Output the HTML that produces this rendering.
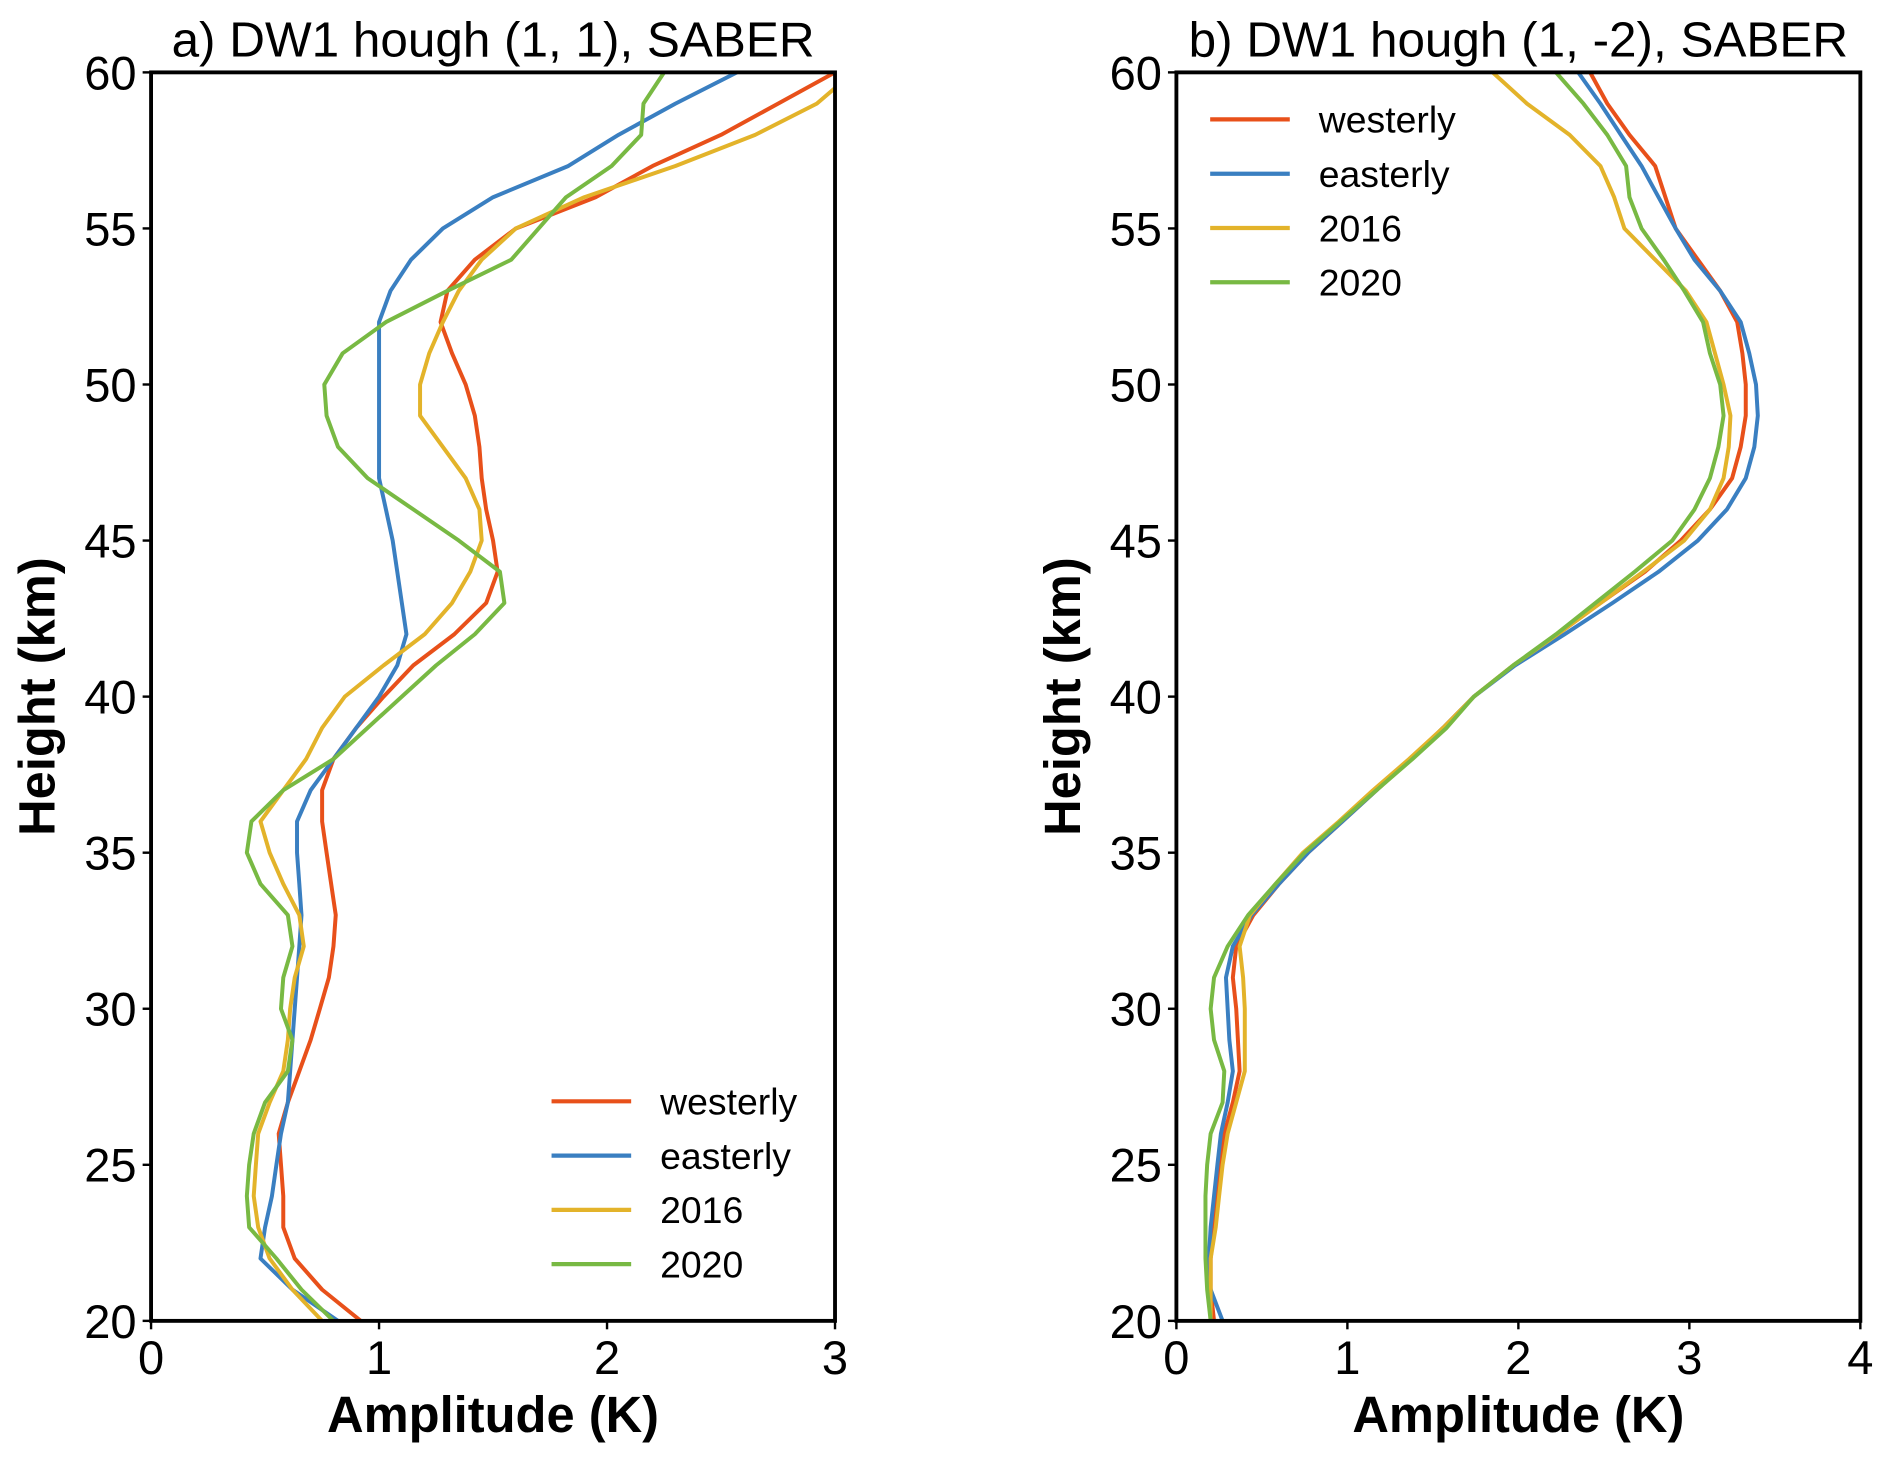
<!DOCTYPE html>
<html><head><meta charset="utf-8"><style>
html,body{margin:0;padding:0;background:#fff}
svg{display:block}
text{font-family:"Liberation Sans",sans-serif;fill:#000}
</style></head><body>
<svg id="chart" width="1892" height="1462" viewBox="0 0 1568 1212"></svg>
<script>
const heights=[20,21,22,23,24,25,26,27,28,29,30,31,32,33,34,35,36,37,38,39,40,41,42,43,44,45,46,47,48,49,50,51,52,53,54,55,56,57,58,59,60];
const aWest=[0.92,0.75,0.63,0.58,0.58,0.57,0.56,0.6,0.65,0.7,0.74,0.78,0.8,0.81,0.79,0.77,0.75,0.75,0.8,0.9,1.02,1.15,1.33,1.47,1.52,1.5,1.47,1.45,1.44,1.42,1.38,1.32,1.27,1.3,1.42,1.6,1.95,2.2,2.5,2.75,3.0];
const aEast=[0.82,0.62,0.48,0.5,0.53,0.55,0.57,0.6,0.61,0.62,0.63,0.64,0.65,0.66,0.65,0.64,0.64,0.7,0.8,0.9,1.0,1.08,1.12,1.1,1.08,1.06,1.03,1.0,1.0,1.0,1.0,1.0,1.0,1.05,1.14,1.28,1.5,1.83,2.05,2.3,2.57];
const a2016=[0.75,0.62,0.52,0.47,0.45,0.46,0.47,0.52,0.58,0.6,0.61,0.63,0.67,0.65,0.58,0.52,0.48,0.58,0.68,0.75,0.85,1.02,1.2,1.32,1.4,1.45,1.44,1.38,1.28,1.18,1.18,1.22,1.28,1.35,1.45,1.6,1.9,2.3,2.65,2.92,3.08];
const a2020=[0.8,0.66,0.55,0.43,0.42,0.43,0.45,0.5,0.6,0.62,0.57,0.58,0.62,0.6,0.48,0.42,0.44,0.58,0.8,0.95,1.1,1.25,1.42,1.55,1.53,1.35,1.15,0.95,0.82,0.77,0.76,0.84,1.03,1.3,1.58,1.7,1.82,2.02,2.15,2.16,2.25];
const bWest=[0.22,0.2,0.2,0.22,0.23,0.25,0.28,0.33,0.37,0.36,0.35,0.33,0.35,0.45,0.6,0.77,0.97,1.17,1.37,1.56,1.74,1.97,2.23,2.48,2.74,2.95,3.12,3.25,3.3,3.33,3.33,3.31,3.28,3.18,3.05,2.92,2.86,2.8,2.65,2.52,2.42];
const bEast=[0.27,0.2,0.19,0.2,0.22,0.24,0.26,0.3,0.33,0.31,0.3,0.29,0.33,0.44,0.6,0.77,0.97,1.17,1.37,1.56,1.74,1.98,2.27,2.55,2.82,3.05,3.22,3.33,3.38,3.4,3.39,3.35,3.3,3.18,3.03,2.92,2.82,2.72,2.6,2.48,2.35];
const b2016=[0.2,0.2,0.2,0.23,0.25,0.27,0.3,0.35,0.4,0.4,0.4,0.39,0.37,0.43,0.58,0.74,0.95,1.15,1.36,1.56,1.74,1.97,2.23,2.48,2.73,2.97,3.12,3.2,3.23,3.24,3.2,3.15,3.1,2.98,2.8,2.62,2.56,2.48,2.3,2.05,1.85];
const b2020=[0.2,0.18,0.17,0.17,0.17,0.18,0.2,0.27,0.28,0.22,0.2,0.22,0.3,0.42,0.58,0.75,0.96,1.17,1.38,1.58,1.74,1.97,2.22,2.45,2.68,2.9,3.03,3.12,3.17,3.2,3.18,3.12,3.08,2.97,2.85,2.72,2.65,2.63,2.52,2.38,2.22];
const seriesNames=["westerly","easterly","2016","2020"];
const colors=["#e8501a","#3a7fc1","#e3b32a","#78b943"];
const yTicks=[20,25,30,35,40,45,50,55,60];
const aXTicks=[0,1,2,3];
const bXTicks=[0,1,2,3,4];
const NS="http://www.w3.org/2000/svg";
const svg=document.getElementById('chart');
function mk(tag,attrs,parent){const e=document.createElementNS(NS,tag);for(const k in attrs)e.setAttribute(k,attrs[k]);(parent||svg).appendChild(e);return e;}
function panel(key,x0,x1,xmax,xticks,title,data,legend){
  const y0=60,y1=1095;
  const sx=v=>x0+(x1-x0)*v/xmax;
  const sy=h=>y1-(y1-y0)*(h-20)/40;
  const g=mk('g',{});
  
  
  const cp=mk('clipPath',{id:'clip'+key},g);mk('rect',{x:x0,y:y0,width:x1-x0,height:y1-y0},cp);
  data.forEach((arr,i)=>{
    const d=arr.map((v,j)=>(j?'L':'M')+sx(v).toFixed(1)+','+sy(heights[j]).toFixed(1)).join('');
    const p=mk('path',{d:d,fill:'none',stroke:colors[i],'stroke-width':3.3,'clip-path':'url(#clip'+key+')','stroke-linejoin':'round'},g);
    
    
  });
  const fr=mk('rect',{x:x0,y:y0,width:x1-x0,height:y1-y0,fill:'none',stroke:'#000','stroke-width':3.2},g);
  
  
  yTicks.forEach(t=>{
    mk('line',{x1:x0-7,x2:x0,y1:sy(t),y2:sy(t),stroke:'#000','stroke-width':2},g);
    const tx=mk('text',{x:x0-12,y:sy(t)+14,'font-size':39,'text-anchor':'end'},g);tx.textContent=t;
    
    
  });
  xticks.forEach(t=>{
    mk('line',{x1:sx(t),x2:sx(t),y1:y1,y2:y1+7,stroke:'#000','stroke-width':2},g);
    const tx=mk('text',{x:sx(t),y:y1+44,'font-size':39,'text-anchor':'middle'},g);tx.textContent=t;
    
    
  });
  const tt=mk('text',{x:(x0+x1)/2,y:47,'font-size':41,'text-anchor':'middle'},g);tt.textContent=title;
  
  
  const xl=mk('text',{x:(x0+x1)/2,y:1187,'font-size':42,'font-weight':'bold','text-anchor':'middle'},g);xl.textContent='Amplitude (K)';
  
  
  const yl=mk('text',{x:0,y:0,'font-size':42,'font-weight':'bold','text-anchor':'middle',transform:'translate('+(x0-80)+','+((y0+y1)/2)+') rotate(-90)'},g);yl.textContent='Height (km)';
  
  
  seriesNames.forEach((n,i)=>{
    const ly=legend.y+i*45;
    const le=mk('g',{},g);
    
    
    mk('line',{x1:legend.x,x2:legend.x+66,y1:ly,y2:ly,stroke:colors[i],'stroke-width':3.5},le);
    const t=mk('text',{x:legend.x+90,y:ly+11,'font-size':31},le);t.textContent=n;
  });
}
panel('a',125,692,3,aXTicks,'a) DW1 hough (1, 1), SABER',[aWest,aEast,a2016,a2020],{x:457,y:913});
panel('b',975,1542,4,bXTicks,'b) DW1 hough (1, -2), SABER',[bWest,bEast,b2016,b2020],{x:1003,y:99});
</script>
</body></html>
